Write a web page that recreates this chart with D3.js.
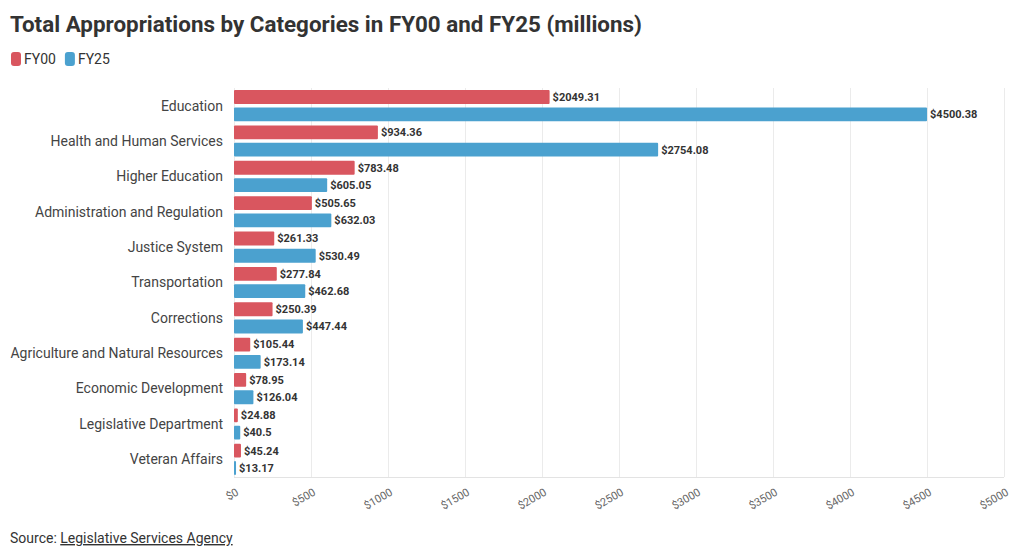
<!DOCTYPE html>
<html><head><meta charset="utf-8">
<script src="https://cdn.jsdelivr.net/npm/d3@7"></script>
<style>
body{margin:0;background:#fff;font-family:Roboto,"Noto Sans",sans-serif;}
svg{display:block;}
</style></head><body>
<svg id="chart" width="1020" height="556"></svg>
<script>
const categories = ["Education","Health and Human Services","Higher Education","Administration and Regulation","Justice System","Transportation","Corrections","Agriculture and Natural Resources","Economic Development","Legislative Department","Veteran Affairs"];
const fy00 = [2049.31,934.36,783.48,505.65,261.33,277.84,250.39,105.44,78.95,24.88,45.24];
const fy25 = [4500.38,2754.08,605.05,632.03,530.49,462.68,447.44,173.14,126.04,40.5,13.17];
const seriesNames = ["FY00","FY25"];
const seriesColors = ["#d9565f","#4ba1cf"];
const xTicks = [0,500,1000,1500,2000,2500,3000,3500,4000,4500,5000];

const svg = d3.select("#chart");
const m = {left:234, right:1004, top:88, bottom:477};

svg.append("text").attr("x",10).attr("y",32).attr("font-size",22.4).attr("font-weight",700)
  .attr("fill","#333").text("Total Appropriations by Categories in FY00 and FY25 (millions)");

// legend
let lx = 11;
seriesNames.forEach((s,i)=>{
  svg.append("rect").attr("x",lx).attr("y",52).attr("width",10).attr("height",14).attr("rx",3).attr("fill",seriesColors[i]);
  const t = svg.append("text").attr("x",lx+13).attr("y",64).attr("font-size",14).attr("fill","#333").text(s);
  lx += 13 + t.node().getComputedTextLength() + 9;
});

const x = d3.scaleLinear().domain([0,5000]).range([m.left,m.right]);
const y = d3.scaleBand().domain(categories).range([m.top,m.bottom]).paddingInner(0.12).paddingOuter(0.06);
const sub = d3.scaleBand().domain(seriesNames).range([0,y.bandwidth()]).paddingInner(0.2);

// grid
svg.append("g").selectAll("line").data(xTicks).join("line")
  .attr("x1",d=>x(d)+0.5).attr("x2",d=>x(d)+0.5).attr("y1",m.top).attr("y2",m.bottom)
  .attr("stroke","#ebebeb").attr("stroke-width",1);
svg.append("line").attr("x1",m.left).attr("x2",m.right).attr("y1",m.bottom+0.5).attr("y2",m.bottom+0.5).attr("stroke","#e3e3e3");

// x axis
const xAxis = svg.append("g").attr("transform",`translate(0,${m.bottom})`)
  .call(d3.axisBottom(x).tickValues(xTicks).tickFormat(d=>"$"+d).tickSize(0));
xAxis.select(".domain").remove();
xAxis.selectAll("text").attr("font-family","Roboto,sans-serif").attr("font-size",11).attr("fill","#666")
  .attr("text-anchor","end").attr("x",0).attr("y",0).attr("dy","0.35em")
  .attr("transform","translate(3,14) rotate(-30)");

// y labels
svg.append("g").selectAll("text").data(categories).join("text")
  .attr("x",223).attr("y",d=>y(d)+y.bandwidth()/2).attr("dy","0.35em")
  .attr("text-anchor","end").attr("font-size",14).attr("fill","#444").text(d=>d);

// bars
const rows = categories.map((c,i)=>({c, vals:[fy00[i],fy25[i]]}));
const g = svg.append("g");
rows.forEach(r=>{
  r.vals.forEach((v,j)=>{
    const s = seriesNames[j];
    const yy = y(r.c)+sub(s);
    const w = Math.max(2,x(v)-x(0));
    g.append("rect").attr("x",x(0)).attr("y",yy).attr("width",w).attr("height",sub.bandwidth())
      .attr("fill",seriesColors[j]).attr("rx",1);
    g.append("text").attr("x",x(0)+w+3).attr("y",yy+sub.bandwidth()/2).attr("dy","0.35em")
      .attr("font-size",11).attr("font-weight",700).attr("fill","#333").text("$"+v);
  });
});

// source
const src = svg.append("text").attr("x",10).attr("y",543).attr("font-size",14).attr("fill","#333");
src.append("tspan").text("Source: ");
src.append("tspan").attr("text-decoration","underline").text("Legislative Services Agency");
</script>
</body></html>
